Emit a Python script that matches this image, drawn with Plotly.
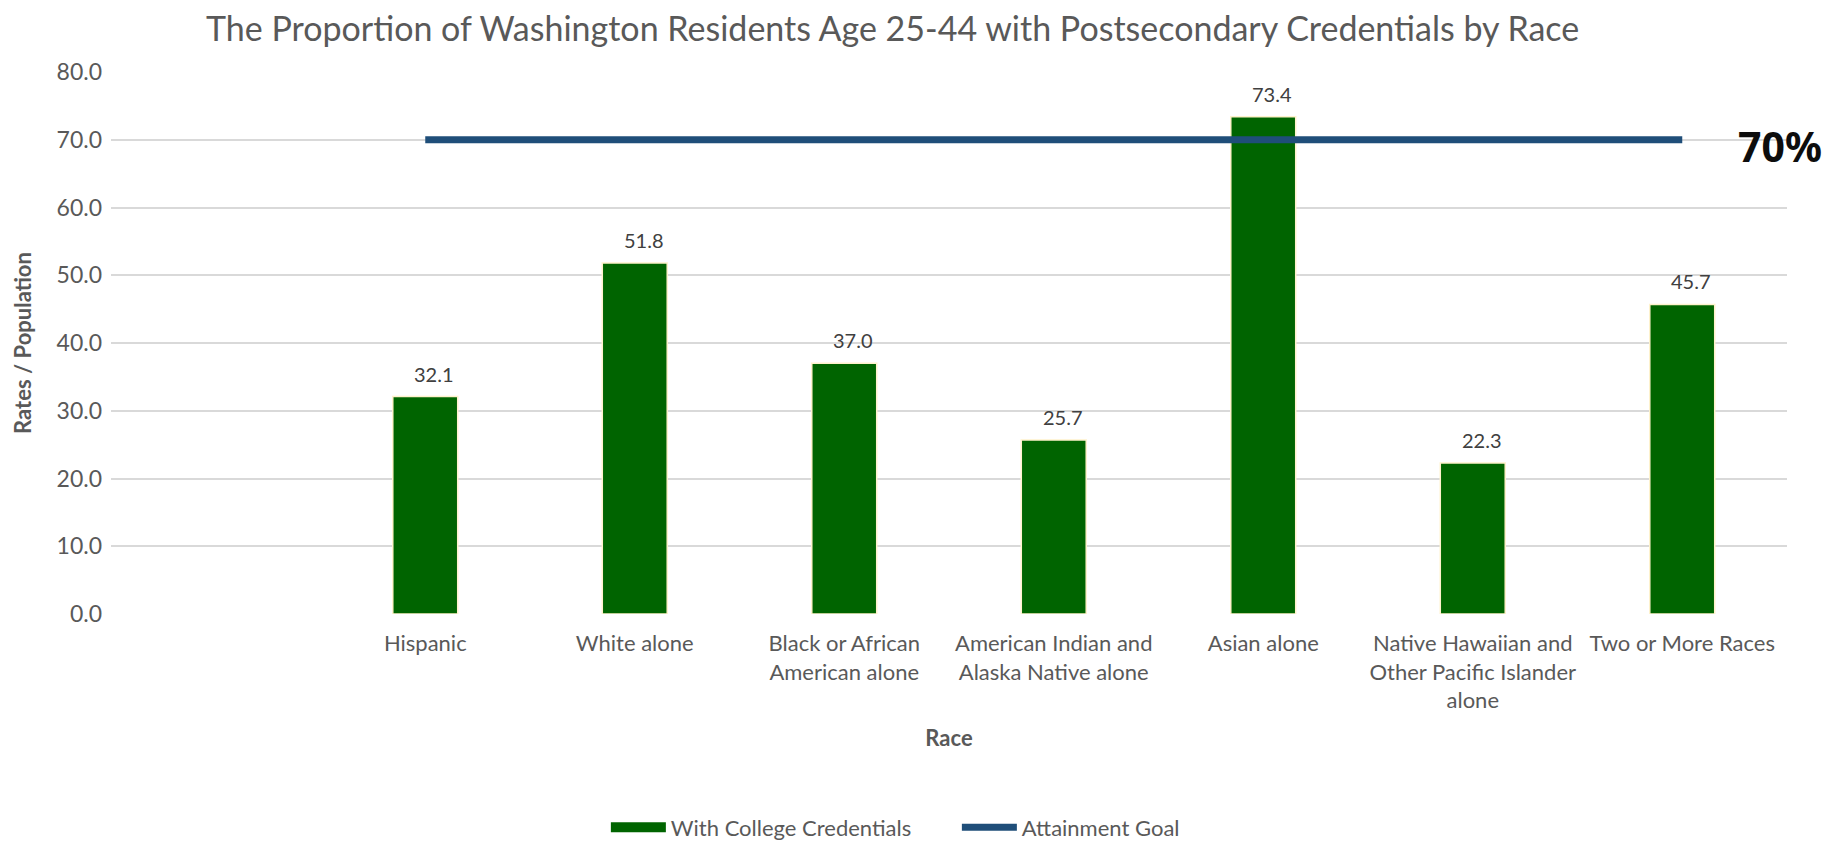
import plotly.graph_objects as go

categories = [" ", "Hispanic", "White alone", "Black or African<br>American alone",
              "American Indian and<br>Alaska Native alone", "Asian alone",
              "Native Hawaiian and<br>Other Pacific Islander<br>alone", "Two or More Races"]
bar_cats = categories[1:]
credentials = [32.1, 51.8, 37.0, 25.7, 73.4, 22.3, 45.7]
goal = [70, 70, 70, 70, 70, 70, 70]

FONT = "Lato"
GREY = "#595959"
GREEN = "#006400"
NAVY = "#1F4E79"

fig = go.Figure()
fig.add_trace(go.Bar(
    x=bar_cats, y=credentials, name="With College Credentials",
    marker=dict(color=GREEN, line=dict(color="#FFF2CC", width=1.5)),
    width=0.31, showlegend=False,
))
fig.add_trace(go.Scatter(
    x=[None], y=[None], name="With College Credentials", mode="lines",
    line=dict(color=GREEN, width=13), legendwidth=281,
))
fig.add_trace(go.Scatter(
    x=bar_cats, y=goal, name="Attainment Goal", mode="lines",
    line=dict(color=NAVY, width=7),
))

for c, v in zip(bar_cats, credentials):
    fig.add_annotation(x=c, y=v, text=f"{v:.1f}", showarrow=False,
                       xanchor="center", yanchor="bottom", xshift=9, yshift=9,
                       font=dict(size=20, color="#404040", family=FONT))

fig.add_annotation(xref="paper", yref="y", x=1.0, y=70, xanchor="left", yanchor="middle",
                   xshift=-51, yshift=-6,
                   text="<b>70%</b>", showarrow=False,
                   font=dict(size=41, color="#0D0D0D", family="Noto Sans"))

fig.update_layout(
    width=1824, height=853,
    paper_bgcolor="white", plot_bgcolor="white",
    margin=dict(l=103, r=45, t=64, b=220),
    title=dict(text="The Proportion of Washington Residents Age 25-44 with Postsecondary Credentials by Race",
               x=0.485, xanchor="center", y=0.975, yanchor="middle",
               font=dict(size=34, color=GREY, family=FONT)),
    font=dict(family=FONT, color=GREY, size=19),
    showlegend=True,
    legend=dict(orientation="h", x=0.468, xanchor="center", y=-0.394, yanchor="middle",
                font=dict(size=22, color=GREY, family=FONT), itemwidth=55,
                traceorder="normal"),
    xaxis=dict(type="category", categoryorder="array", categoryarray=categories,
               range=[-0.5, 7.5], showgrid=False, showline=False, ticks="",
               tickfont=dict(size=22, color=GREY, family=FONT), ticklabelstandoff=14,
               title=dict(text="<b>Race</b>", font=dict(size=22, color=GREY, family=FONT), standoff=18)),
    yaxis=dict(range=[0, 80], dtick=10, tickformat=".1f", showgrid=True,
               gridcolor="#D9D9D9", gridwidth=1.5, zeroline=False, showline=False,
               tickfont=dict(size=23, color=GREY, family=FONT), ticklabelstandoff=8,
               title=dict(text="<b>Rates / Population</b>", font=dict(size=22, color=GREY, family=FONT), standoff=18)),
)

fig.write_html("out.html")
